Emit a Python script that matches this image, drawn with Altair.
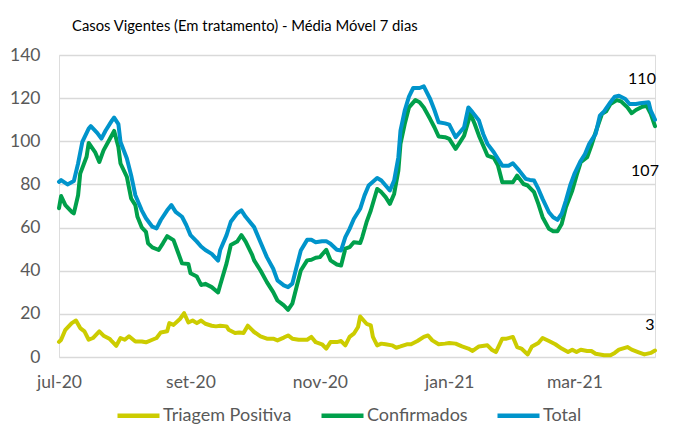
import altair as alt
import pandas as pd

START = "2020-07-01"

# Total (days since 2020-07-01, value)
total_days = [0, 1, 4, 7, 9, 11, 14, 15, 18, 20, 22, 25, 26, 28, 29, 32, 34, 36, 39, 41,
              44, 46, 48, 51, 53, 55, 58, 60, 62, 65, 67, 69, 72, 75, 76, 79, 81, 84, 86, 88,
              92, 95, 98, 101, 103, 106, 108, 110, 112, 114, 117, 119, 121, 124, 126, 128, 131, 133, 135, 137,
              139, 142, 144, 146, 150, 152, 154, 156, 158, 160, 161, 163, 165, 167, 170, 172, 175, 177, 179, 182,
              184, 187, 189, 191, 193, 195, 198, 200, 202, 205, 207, 209, 212, 214, 217, 220, 222, 224, 226, 228,
              231, 233, 235, 237, 239, 241, 243, 246, 248, 250, 253, 255, 257, 260, 262, 264, 267, 269, 272, 274,
              276, 278, 279, 281]
total_vals = [81.2, 82, 80, 81.6, 89.7, 99.7, 105.9, 107, 103.9, 101.2, 105, 109.7, 111, 108, 99.7, 92, 84.3, 75, 68, 64.3,
              60.4, 59.6, 63.5, 68, 70.4, 67.3, 65, 61.2, 56.5, 53.5, 51.2, 49.6, 47.8, 44.7, 49.6, 56.5, 62.7, 66.6, 68, 65,
              60.2, 53.2, 46.3, 40.9, 35.5, 33.2, 32.4, 34, 41.7, 49.4, 54.3, 54.3, 53.2, 53.7, 53.7, 52.5, 49.7, 49.4, 55.6, 59.4,
              64, 68.7, 74.8, 79.5, 83, 81.8, 79.5, 77.2, 81.8, 92.6, 104.9, 114.2, 120.7, 124.7, 124.7, 125.5, 119.6, 114.5, 108.8, 108.3,
              107.7, 101.9, 104.2, 106.5, 115.7, 113.4, 109.6, 103.4, 98.8, 94.9, 91.8, 88.7, 88.7, 89.8, 86.4, 82.6, 82.1, 81.8, 77.9, 73.3,
              67.1, 64.8, 63.6, 66.4, 72.5, 79.5, 84.9, 91, 94.1, 98.8, 103.4, 111.9, 113.9, 118.1, 120.7, 121.1, 119.6, 117.3, 117.3, 117.6,
              117.9, 118.1, 114.2, 110]

# Confirmados
conf_days = [0, 1, 3, 6, 7, 9, 10, 13, 14, 17, 19, 21, 24, 26, 28, 29, 32, 34, 36, 37,
             39, 41, 42, 44, 47, 49, 51, 54, 56, 58, 61, 62, 65, 67, 69, 72, 75, 76, 79, 81,
             84, 86, 88, 91, 92, 95, 98, 101, 103, 106, 108, 110, 112, 114, 117, 119, 121, 123, 126, 128,
             131, 133, 135, 137, 139, 142, 143, 145, 147, 150, 152, 154, 156, 158, 160, 161, 163, 165, 168, 170,
             172, 175, 177, 179, 182, 184, 187, 189, 191, 194, 196, 198, 201, 202, 205, 207, 209, 212, 214, 216,
             219, 221, 224, 226, 228, 231, 233, 235, 237, 239, 242, 244, 246, 249, 251, 253, 256, 258, 260, 263,
             265, 268, 270, 272, 275, 277, 279, 281]
conf_vals = [69, 74.6, 70.4, 67.3, 66.6, 75, 85, 92.8, 99.2, 95, 90.4, 95.8, 101.2, 104.8, 97.4, 89.7, 83.5, 73.5, 70.4, 65,
             60.1, 58, 52.7, 50.8, 49.6, 52.7, 56, 54.2, 48.8, 43.4, 43.1, 38.8, 37.3, 33.4, 33.9, 32.4, 29.9, 33.4, 43.4, 51.9,
             53.5, 56.5, 53.5, 47.5, 44.8, 40.1, 34.7, 30.1, 26.2, 23.9, 21.9, 24.7, 32.4, 40.1, 44.8, 45.1, 46, 46.3, 49.7, 44.8,
             42.9, 42.4, 50.2, 50.9, 53.2, 52.8, 55.6, 62.5, 67.9, 77.9, 76.4, 74.1, 71, 75.6, 86.4, 98.8, 108, 115.7, 119.1, 118.1,
             115.7, 110.3, 106.5, 102.2, 101.9, 101.1, 96.5, 99.5, 102.6, 112.7, 108, 102.6, 95.7, 93.4, 92.3, 88.7, 81, 81, 81, 84.1,
             80.2, 79.5, 76.4, 71, 64.8, 59.4, 58.3, 58.3, 61.7, 69.4, 77.2, 84.1, 90.3, 92.6, 98, 104.2, 112.7, 113.9, 117.3, 119.1,
             118.5, 115.7, 113, 114.5, 116, 116.5, 112.7, 107]

# Triagem Positiva
tri_days = [0, 1, 3, 6, 8, 10, 12, 14, 16, 19, 21, 24, 25, 27, 29, 31, 33, 36, 39, 41,
            44, 46, 48, 51, 52, 54, 57, 59, 61, 63, 65, 67, 69, 72, 74, 76, 79, 80, 83, 85,
            87, 89, 91, 92, 95, 98, 101, 103, 106, 108, 110, 113, 117, 119, 121, 124, 126, 128, 131, 133,
            135, 137, 139, 141, 142, 145, 147, 148, 150, 152, 154, 157, 159, 161, 164, 166, 169, 172, 174, 176,
            179, 182, 184, 187, 190, 193, 195, 198, 202, 204, 206, 209, 211, 214, 216, 218, 221, 223, 226, 228,
            231, 234, 237, 240, 242, 244, 246, 249, 251, 253, 257, 260, 262, 264, 268, 270, 273, 276, 279, 281]
tri_vals = [7, 8, 12.6, 15.7, 16.9, 13.4, 11.9, 8, 8.8, 11.9, 9.9, 8.3, 7.2, 5.2, 8.8, 8, 9.6, 7.2, 7.2, 6.8,
            8, 8.8, 11.4, 11.9, 15.7, 14.9, 17.6, 20.3, 16, 16.9, 15.7, 16.9, 15.4, 14.5, 14.2, 14.5, 14.2, 12.6, 11.1, 11.4,
            11.1, 14.5, 12.6, 11.6, 9.6, 8.5, 8.5, 7.7, 9, 10, 8.5, 8, 8, 9.3, 6.9, 5.9, 3.9, 6.9, 6.9, 7.4,
            5.4, 9.3, 10.8, 13.9, 18.8, 15.4, 14.7, 9.3, 5.4, 6.2, 5.9, 5.4, 4.3, 4.9, 5.9, 5.9, 7.4, 9.3, 10, 7.7,
            5.9, 6.2, 6.5, 6.2, 4.9, 3.9, 2.8, 4.9, 5.4, 3.4, 2.3, 8.5, 8.5, 9.3, 4.6, 3.9, 1.2, 4.9, 6.5, 8.8,
            7.4, 5.9, 3.9, 2.3, 3.4, 2.3, 3.4, 2.8, 2.8, 1.5, 0.8, 0.8, 1.9, 3.4, 4.6, 3.4, 2.3, 1.2, 1.9, 3]

series_names = ["Triagem Positiva", "Confirmados", "Total"]
series_colors = ["#CCCC00", "#00A04B", "#0094CB"]

tick_dates = ["2020-07-01", "2020-09-01", "2020-11-01", "2021-01-01", "2021-03-01"]
y_ticks = [0, 20, 40, 60, 80, 100, 120, 140]

# end labels: series, text
end_series = ["Total", "Confirmados", "Triagem Positiva"]
end_texts = ["110", "107", "3"]

FONT = "Lato"


def frame(name, days, vals):
    d = pd.Timestamp(START) + pd.to_timedelta(days, unit="D")
    return pd.DataFrame({"data": d.strftime("%Y-%m-%dT00:00:00"), "valor": vals, "serie": name})


df = pd.concat([
    frame("Triagem Positiva", tri_days, tri_vals),
    frame("Confirmados", conf_days, conf_vals),
    frame("Total", total_days, total_vals),
], ignore_index=True)

last = {s: df[df.serie == s].iloc[-1] for s in series_names}
lab_df = pd.DataFrame({
    "serie": end_series,
    "data": [last[s]["data"] for s in end_series],
    "valor": [last[s]["valor"] for s in end_series],
    "texto": end_texts,
})


def dt(s):
    t = pd.Timestamp(s)
    return alt.DateTime(year=t.year, month=t.month, date=t.day)


x_scale = alt.Scale(domain=[dt("2020-07-01"), dt("2021-04-08")])
y_scale = alt.Scale(domain=[0, 140], nice=False)

month_expr = ("['jan','fev','mar','abr','mai','jun','jul','ago','set','out','nov','dez']"
              "[month(datum.value)] + '-' + timeFormat(datum.value, '%y')")

x_enc = alt.X("data:T", scale=x_scale, axis=alt.Axis(
    values=[dt(d) for d in tick_dates], labelExpr=month_expr, title=None, grid=False,
    domain=False, ticks=False, labelPadding=16, labelFlush=False, labelFont=FONT,
    labelFontSize=17.5, labelColor="#595959"))
y_enc = alt.Y("valor:Q", scale=y_scale, axis=alt.Axis(
    values=y_ticks, title=None, grid=True, gridColor="#D9D9D9", gridWidth=1.3,
    domain=False, ticks=False, labelPadding=19, labelFont=FONT, labelFontSize=17.5,
    labelColor="#595959"))

lines = alt.Chart(df).mark_line(strokeWidth=4, strokeJoin="round", strokeCap="round").encode(
    x=x_enc,
    y=y_enc,
    color=alt.Color("serie:N", scale=alt.Scale(domain=series_names, range=series_colors),
                    legend=alt.Legend(orient="none", legendX=56, legendY=337, direction="horizontal",
                                      title=None, symbolType="stroke", symbolSize=1764,
                                      symbolStrokeWidth=4.5, labelFont=FONT, labelFontSize=18,
                                      labelColor="#595959", columnPadding=20, labelOffset=1)),
    order=alt.Order("data:T"),
)

offsets = {"Total": (-13, -41), "Confirmados": (-10, 45), "Triagem Positiva": (-5, -26)}
label_layers = []
for s in end_series:
    dx, dy = offsets[s]
    label_layers.append(
        alt.Chart(lab_df).transform_filter(alt.datum.serie == s).mark_text(
            dx=dx, dy=dy, font=FONT, fontSize=16, color="#000000", align="center", baseline="middle"
        ).encode(x=alt.X("data:T", scale=x_scale), y=alt.Y("valor:Q", scale=y_scale), text="texto:N")
    )

chart = alt.layer(lines, *label_layers).properties(
    width=596,
    height=302,
    title=alt.TitleParams("Casos Vigentes (Em tratamento) - Média Móvel 7 dias", anchor="start",
                          frame="group", dx=13, offset=0, font=FONT, fontSize=14.8,
                          fontWeight="normal", color="#000000", baseline="alphabetic"),
    padding={"left": 51, "top": 47, "right": 12, "bottom": 70},
    autosize=alt.AutoSizeParams(type="none"),
).configure_view(stroke=None).configure(background="white")

chart.save("out.html", embed_options={"renderer": "svg", "actions": False})
